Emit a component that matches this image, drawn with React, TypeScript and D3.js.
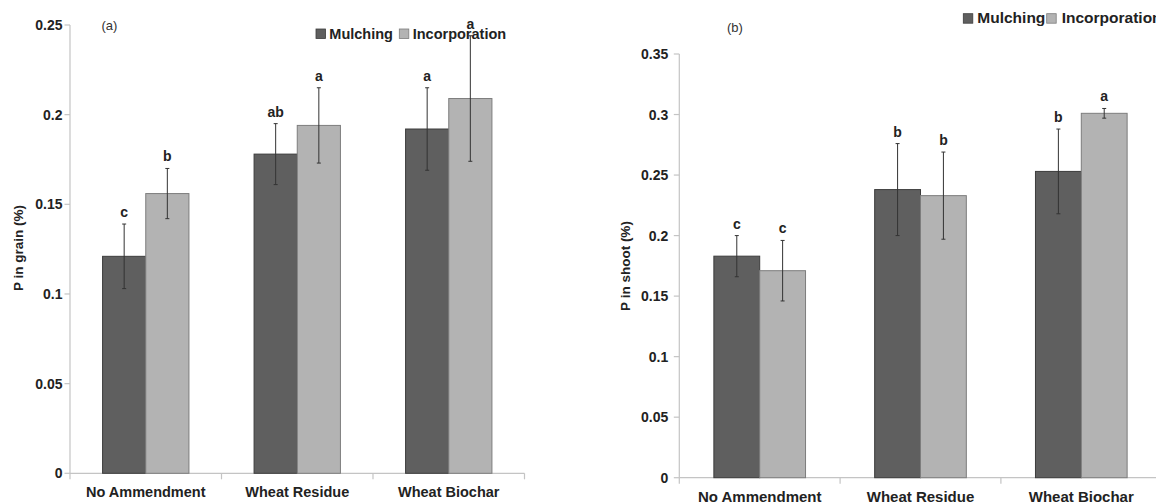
import React from "react";
import * as d3 from "d3";

// Treatments on the x axis and the two application methods
const categories = ["No Ammendment", "Wheat Residue", "Wheat Biochar"];
const seriesNames = ["Mulching", "Incorporation"];

// (a) P in grain (%)
const grainMulching = [0.121, 0.178, 0.192];
const grainIncorporation = [0.156, 0.194, 0.209];
const grainMulchingErr = [0.018, 0.017, 0.023];
const grainIncorporationErr = [0.014, 0.021, 0.035];
const grainMulchingLetters = ["c", "ab", "a"];
const grainIncorporationLetters = ["b", "a", "a"];
const grainTicks = [0, 0.05, 0.1, 0.15, 0.2, 0.25];

// (b) P in shoot (%)
const shootMulching = [0.183, 0.238, 0.253];
const shootIncorporation = [0.171, 0.233, 0.301];
const shootMulchingErr = [0.017, 0.038, 0.035];
const shootIncorporationErr = [0.025, 0.036, 0.004];
const shootMulchingLetters = ["c", "b", "b"];
const shootIncorporationLetters = ["c", "b", "a"];
const shootTicks = [0, 0.05, 0.1, 0.15, 0.2, 0.25, 0.3, 0.35];

const FONT = "'Liberation Sans', Arial, Helvetica, sans-serif";
const AXIS = "#c4c4c4";
const FILLS = ["#5f5f5f", "#b3b3b3"];
const STROKES = ["#3c3c3c", "#7d7d7d"];

type PanelProps = {
  tag: string;
  tagX: number;
  tagY: number;
  yTitle: string;
  titleX: number;
  titleY: number;
  left: number;
  y0: number;
  yTop: number;
  yMax: number;
  band: number;
  ticks: number[];
  values: number[][];
  errors: number[][];
  letters: string[][];
  fontSize: number;
  legendFont: number;
  tickGap: number;
  catBaseline: number;
  legendY: number;
  legendX: number[];
};

function Panel(p: PanelProps) {
  const x = d3
    .scaleBand<string>()
    .domain(categories)
    .range([p.left, p.left + p.band * categories.length])
    .padding(0);
  const y = d3.scaleLinear().domain([0, p.yMax]).range([p.y0, p.yTop]);
  const bw = x.bandwidth() * 0.285;
  const fmt = (v: number) => String(Number(v.toFixed(2)));
  const bounds = d3.range(categories.length + 1).map((i) => p.left + i * x.step());

  return (
    <g fontFamily={FONT}>
      {/* panel tag */}
      <text x={p.tagX} y={p.tagY} fontSize={13} fill="#333" dominantBaseline="central">
        {p.tag}
      </text>

      {/* legend */}
      {seriesNames.map((name, s) => (
        <g key={name}>
          <rect
            x={p.legendX[s * 2]}
            y={p.legendY - 9.5}
            width={9.5}
            height={9.5}
            fill={FILLS[s]}
            stroke={STROKES[s]}
            strokeWidth={0.8}
          />
          <text
            x={p.legendX[s * 2 + 1]}
            y={p.legendY}
            fontSize={p.legendFont}
            fontWeight="bold"
            fill="#222"
          >
            {name}
          </text>
        </g>
      ))}

      {/* y axis */}
      <line x1={p.left} x2={p.left} y1={y(p.yMax)} y2={p.y0} stroke={AXIS} strokeWidth={1.2} />
      {p.ticks.map((t) => (
        <g key={t}>
          <line x1={p.left - 5.5} x2={p.left} y1={y(t)} y2={y(t)} stroke={AXIS} strokeWidth={1.2} />
          <text
            x={p.left - p.tickGap}
            y={y(t)}
            dy="0.36em"
            textAnchor="end"
            fontSize={14}
            fontWeight="bold"
            fill="#222"
          >
            {fmt(t)}
          </text>
        </g>
      ))}
      <text
        transform={`translate(${p.titleX},${p.titleY}) rotate(-90)`}
        textAnchor="middle"
        dominantBaseline="central"
        fontSize={13.5}
        fontWeight="bold"
        fill="#222"
      >
        {p.yTitle}
      </text>

      {/* x axis */}
      <line x1={p.left} x2={bounds[bounds.length - 1]} y1={p.y0} y2={p.y0} stroke={AXIS} strokeWidth={1.2} />
      {bounds.map((bx, i) => (
        <line key={i} x1={bx} x2={bx} y1={p.y0} y2={p.y0 + 6} stroke={AXIS} strokeWidth={1.2} />
      ))}
      {categories.map((c) => (
        <text
          key={c}
          x={(x(c) as number) + x.bandwidth() / 2}
          y={p.catBaseline}
          textAnchor="middle"
          fontSize={p.fontSize}
          fontWeight="bold"
          fill="#222"
        >
          {c}
        </text>
      ))}

      {/* bars, error bars, significance letters */}
      {categories.map((c, i) => {
        const cx = (x(c) as number) + x.bandwidth() / 2;
        return (
          <g key={c}>
            {seriesNames.map((name, s) => {
              const v = p.values[s][i];
              const e = p.errors[s][i];
              const bx = cx - bw + s * bw;
              const mx = bx + bw / 2;
              return (
                <g key={name}>
                  <rect
                    x={bx}
                    y={y(v)}
                    width={bw}
                    height={p.y0 - y(v)}
                    fill={FILLS[s]}
                    stroke={STROKES[s]}
                    strokeWidth={1}
                  />
                  <line x1={mx} x2={mx} y1={y(v + e)} y2={y(v - e)} stroke="#333" strokeWidth={1} />
                  <line x1={mx - 2} x2={mx + 2} y1={y(v + e)} y2={y(v + e)} stroke="#333" strokeWidth={1} />
                  <line x1={mx - 2} x2={mx + 2} y1={y(v - e)} y2={y(v - e)} stroke="#333" strokeWidth={1} />
                  <text
                    x={mx}
                    y={y(v + e) - 7}
                    textAnchor="middle"
                    fontSize={14}
                    fontWeight="bold"
                    fill="#222"
                  >
                    {p.letters[s][i]}
                  </text>
                </g>
              );
            })}
          </g>
        );
      })}
    </g>
  );
}

export default function App() {
  return (
    <svg
      width={1156}
      height={503}
      style={{ position: "absolute", left: 0, top: 0, background: "#fff" }}
    >
      <rect width={1156} height={503} fill="#fff" />
      <Panel
        tag="(a)"
        tagX={101.5}
        tagY={25}
        yTitle="P in grain (%)"
        titleX={18.5}
        titleY={248}
        left={70}
        y0={473.3}
        yTop={25}
        yMax={0.25}
        band={151.5}
        ticks={grainTicks}
        values={[grainMulching, grainIncorporation]}
        errors={[grainMulchingErr, grainIncorporationErr]}
        letters={[grainMulchingLetters, grainIncorporationLetters]}
        fontSize={14.5}
        legendFont={14.5}
        tickGap={7.5}
        catBaseline={497}
        legendY={38.5}
        legendX={[316, 329.3, 399.3, 412.7]}
      />
      <Panel
        tag="(b)"
        tagX={727}
        tagY={27}
        yTitle="P in shoot (%)"
        titleX={625}
        titleY={266}
        left={679.3}
        y0={477.7}
        yTop={54}
        yMax={0.35}
        band={160.8}
        ticks={shootTicks}
        values={[shootMulching, shootIncorporation]}
        errors={[shootMulchingErr, shootIncorporationErr]}
        letters={[shootMulchingLetters, shootIncorporationLetters]}
        fontSize={15}
        legendFont={15.5}
        tickGap={11}
        catBaseline={501.5}
        legendY={23.2}
        legendX={[963.3, 977.3, 1046.7, 1061.7]}
      />
    </svg>
  );
}
